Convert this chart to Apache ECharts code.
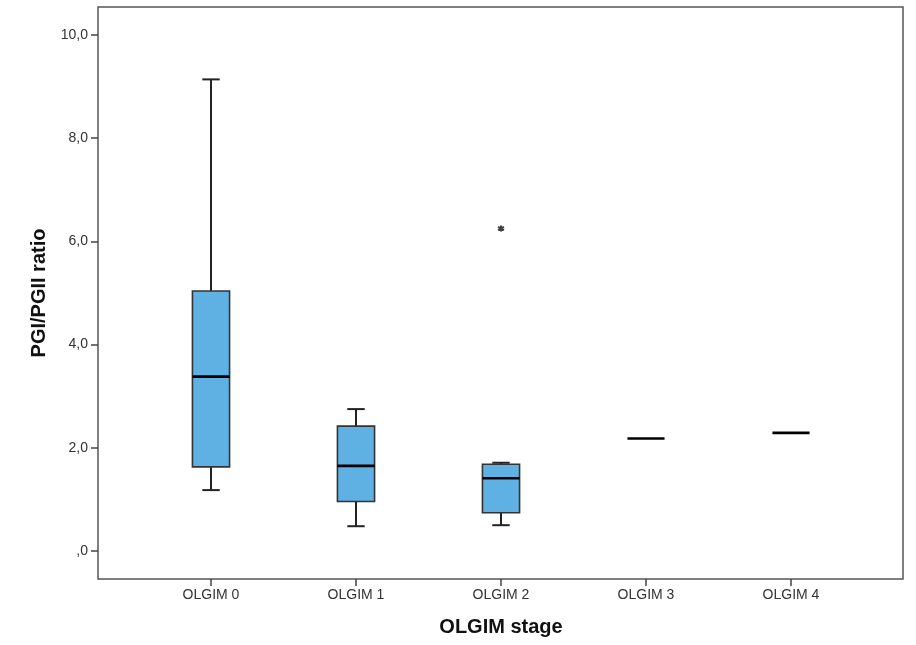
<!DOCTYPE html>
<html>
<head>
<meta charset="utf-8">
<script src="https://cdn.jsdelivr.net/npm/echarts@6/dist/echarts.min.js"></script>
<style>html,body{margin:0;padding:0;background:#fff}#c{width:916px;height:645px}</style>
</head>
<body>
<div id="c"></div>
<script>
// ---- data ----
var categories = ['OLGIM 0', 'OLGIM 1', 'OLGIM 2', 'OLGIM 3', 'OLGIM 4'];
// [lower whisker, Q1, median, Q3, upper whisker]
var boxMin    = [1.18, 0.48, 0.50, 2.18, 2.29];
var boxQ1     = [1.63, 0.96, 0.74, 2.18, 2.29];
var boxMedian = [3.38, 1.65, 1.41, 2.18, 2.29];
var boxQ3     = [5.04, 2.42, 1.68, 2.18, 2.29];
var boxMax    = [9.14, 2.75, 1.71, 2.18, 2.29];
var outlierCat = [2];
var outlierVal = [6.25];
var yTicks = [0, 2, 4, 6, 8, 10];
var yTickLabels = [',0', '2,0', '4,0', '6,0', '8,0', '10,0'];
var xTitle = 'OLGIM stage';
var yTitle = 'PGI/PGII ratio';

var boxData = categories.map(function (c, i) {
  return [i, boxMin[i], boxQ1[i], boxMedian[i], boxQ3[i], boxMax[i]];
});
var outlierData = outlierCat.map(function (c, i) { return [c, outlierVal[i]]; });

var chart = echarts.init(document.getElementById('c'), null, {renderer: 'canvas'});
var lineCol = '#222';
var fontFam = 'Liberation Sans, Arial, sans-serif';

function renderBox(params, api) {
  var idx = api.value(0);
  var band = api.size([1, 0])[0];
  var bw = band * 0.256;
  var cw = band * 0.12;
  var pMin = api.coord([idx, api.value(1)]);
  var pQ1 = api.coord([idx, api.value(2)]);
  var pMed = api.coord([idx, api.value(3)]);
  var pQ3 = api.coord([idx, api.value(4)]);
  var pMax = api.coord([idx, api.value(5)]);
  var x = pMed[0];
  var children = [];
  var ls = {stroke: lineCol, lineWidth: 2};
  if (api.value(5) > api.value(4)) {
    children.push({type: 'line', shape: {x1: x, y1: pQ3[1], x2: x, y2: pMax[1]}, style: ls});
    children.push({type: 'line', shape: {x1: x - cw / 2, y1: pMax[1], x2: x + cw / 2, y2: pMax[1]}, style: ls});
  }
  if (api.value(2) > api.value(1)) {
    children.push({type: 'line', shape: {x1: x, y1: pQ1[1], x2: x, y2: pMin[1]}, style: ls});
    children.push({type: 'line', shape: {x1: x - cw / 2, y1: pMin[1], x2: x + cw / 2, y2: pMin[1]}, style: ls});
  }
  if (api.value(4) > api.value(2)) {
    children.push({type: 'rect', shape: {x: x - bw / 2, y: pQ3[1], width: bw, height: pQ1[1] - pQ3[1]},
      style: {fill: '#5fb0e3', stroke: '#333', lineWidth: 1.6}});
  }
  children.push({type: 'line', shape: {x1: x - bw / 2, y1: pMed[1], x2: x + bw / 2, y2: pMed[1]},
    style: {stroke: '#000', lineWidth: 2.6}});
  return {type: 'group', children: children};
}

var option = {
  backgroundColor: '#fff',
  animation: false,
  grid: [
    // data grid (category bands), full frame height
    {left: 138.5, right: 52.5, top: 7, bottom: 66, containLabel: false},
    // frame
    {left: 98, right: 13, top: 7, bottom: 66, show: true, borderColor: '#555', borderWidth: 1.5, backgroundColor: 'transparent', containLabel: false},
    // y scale grid (0..10)
    {left: 98, right: 13, top: 35, bottom: 94, containLabel: false}
  ],
  xAxis: [
    {
      type: 'category', gridIndex: 0, data: categories,
      boundaryGap: true,
      axisLine: {show: false, onZero: false},
      axisTick: {show: true, alignWithLabel: true, length: 7, lineStyle: {color: '#444', width: 1.5}},
      axisLabel: {color: '#333', fontSize: 14, fontFamily: fontFam, margin: 9},
      name: xTitle, nameLocation: 'middle', nameGap: 38,
      nameTextStyle: {color: '#111', fontSize: 20, fontWeight: 'bold', fontFamily: fontFam},
      splitLine: {show: false}
    },
    {type: 'value', gridIndex: 1, show: false, min: 0, max: 1},
    {type: 'value', gridIndex: 2, show: false, min: 0, max: 1}
  ],
  yAxis: [
    {type: 'value', gridIndex: 0, show: false, min: -0.543, max: 10.543, splitLine: {show: false}},
    {type: 'value', gridIndex: 1, show: false, min: 0, max: 1},
    {
      type: 'value', gridIndex: 2, min: 0, max: 10, interval: 2,
      axisLine: {show: false, onZero: false},
      axisTick: {show: true, length: 7, lineStyle: {color: '#444', width: 1.5}},
      axisLabel: {color: '#333', fontSize: 14, fontFamily: fontFam, margin: 10,
        formatter: function (v) { var k = yTicks.indexOf(v); return k >= 0 ? yTickLabels[k] : ''; }},
      splitLine: {show: false},
      name: yTitle, nameLocation: 'middle', nameGap: 49, nameRotate: 90,
      nameTextStyle: {color: '#111', fontSize: 20, fontWeight: 'bold', fontFamily: fontFam}
    }
  ],
  series: [
    {type: 'custom', xAxisIndex: 0, yAxisIndex: 0, renderItem: renderBox, data: boxData,
      encode: {x: 0, y: [1, 2, 3, 4, 5]}, clip: false},
    {type: 'scatter', xAxisIndex: 0, yAxisIndex: 0, data: outlierData, symbolSize: 6,
      symbol: 'path://M0,-5L0,5M-4.33,-2.5L4.33,2.5M-4.33,2.5L4.33,-2.5',
      itemStyle: {color: 'none', borderColor: '#111', borderWidth: 2}}
  ]
};
chart.setOption(option);
</script>
</body>
</html>
